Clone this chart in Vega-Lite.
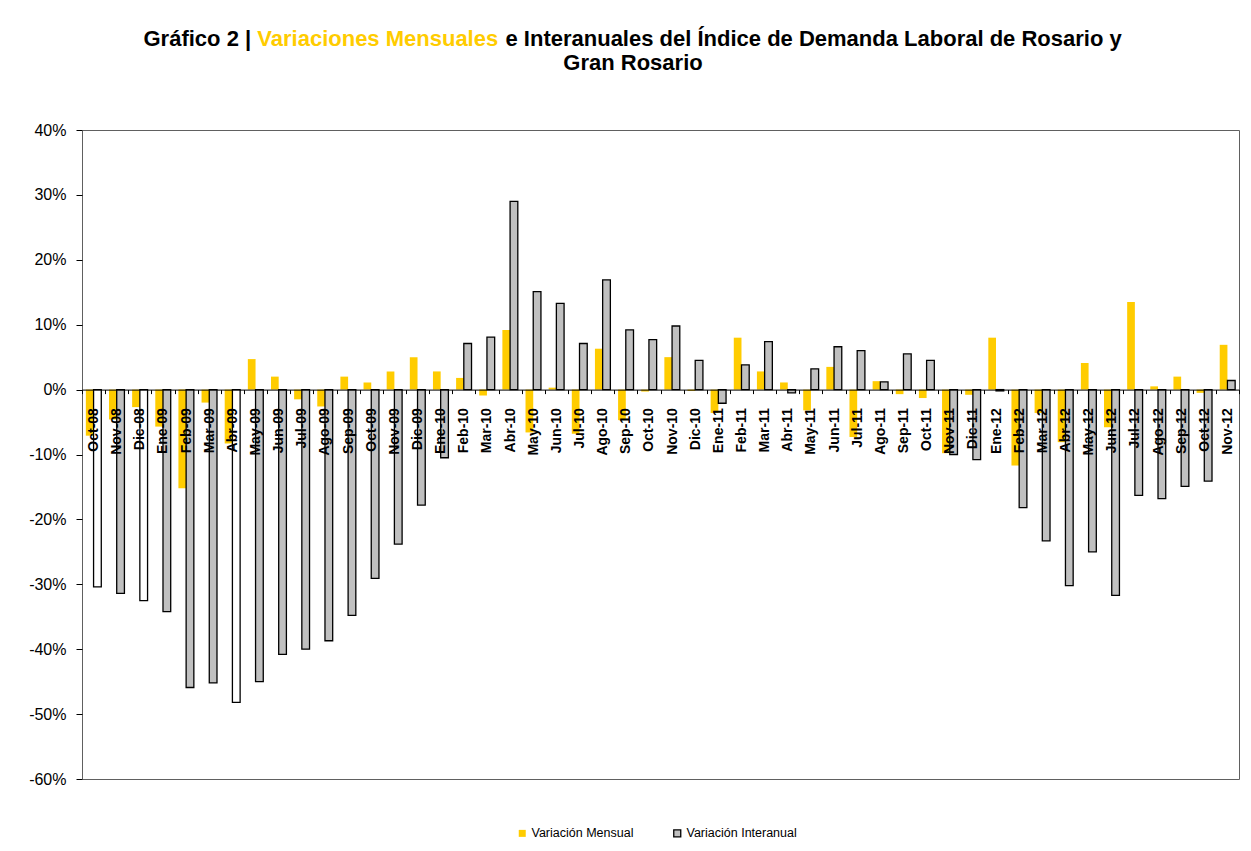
{
  "$schema": "https://vega.github.io/schema/vega-lite/v6.json",
  "width": 1157,
  "height": 649,
  "autosize": {"type": "none"},
  "padding": {"left": 82, "top": 130, "right": 12, "bottom": 72},
  "background": "white",
  "config": {"view": {"stroke": "#606060", "strokeWidth": 1}, "font": "Liberation Sans"},
  "data": {"values": [
    {"mes": "Oct-08", "Variación Mensual": -7.1, "Variación Interanual": -30.4},
    {"mes": "Nov-08", "Variación Mensual": -4.6, "Variación Interanual": -31.4},
    {"mes": "Dic-08", "Variación Mensual": -2.7, "Variación Interanual": -32.5},
    {"mes": "Ene-09", "Variación Mensual": -5.7, "Variación Interanual": -34.2},
    {"mes": "Feb-09", "Variación Mensual": -15.2, "Variación Interanual": -45.9},
    {"mes": "Mar-09", "Variación Mensual": -2.0, "Variación Interanual": -45.2},
    {"mes": "Abr-09", "Variación Mensual": -8.3, "Variación Interanual": -48.2},
    {"mes": "May-09", "Variación Mensual": 4.7, "Variación Interanual": -45.0},
    {"mes": "Jun-09", "Variación Mensual": 2.0, "Variación Interanual": -40.8},
    {"mes": "Jul-09", "Variación Mensual": -1.5, "Variación Interanual": -40.0},
    {"mes": "Ago-09", "Variación Mensual": -2.6, "Variación Interanual": -38.7},
    {"mes": "Sep-09", "Variación Mensual": 2.0, "Variación Interanual": -34.8},
    {"mes": "Oct-09", "Variación Mensual": 1.1, "Variación Interanual": -29.1},
    {"mes": "Nov-09", "Variación Mensual": 2.8, "Variación Interanual": -23.8},
    {"mes": "Dic-09", "Variación Mensual": 5.0, "Variación Interanual": -17.8},
    {"mes": "Ene-10", "Variación Mensual": 2.8, "Variación Interanual": -10.5},
    {"mes": "Feb-10", "Variación Mensual": 1.8, "Variación Interanual": 7.1},
    {"mes": "Mar-10", "Variación Mensual": -0.9, "Variación Interanual": 8.1},
    {"mes": "Abr-10", "Variación Mensual": 9.2, "Variación Interanual": 29.0},
    {"mes": "May-10", "Variación Mensual": -6.6, "Variación Interanual": 15.1},
    {"mes": "Jun-10", "Variación Mensual": 0.3, "Variación Interanual": 13.3},
    {"mes": "Jul-10", "Variación Mensual": -6.8, "Variación Interanual": 7.1},
    {"mes": "Ago-10", "Variación Mensual": 6.3, "Variación Interanual": 16.9},
    {"mes": "Sep-10", "Variación Mensual": -4.7, "Variación Interanual": 9.2},
    {"mes": "Oct-10", "Variación Mensual": -0.3, "Variación Interanual": 7.7},
    {"mes": "Nov-10", "Variación Mensual": 5.0, "Variación Interanual": 9.8},
    {"mes": "Dic-10", "Variación Mensual": -0.2, "Variación Interanual": 4.5},
    {"mes": "Ene-11", "Variación Mensual": -3.6, "Variación Interanual": -2.1},
    {"mes": "Feb-11", "Variación Mensual": 8.0, "Variación Interanual": 3.8},
    {"mes": "Mar-11", "Variación Mensual": 2.8, "Variación Interanual": 7.4},
    {"mes": "Abr-11", "Variación Mensual": 1.1, "Variación Interanual": -0.5},
    {"mes": "May-11", "Variación Mensual": -3.2, "Variación Interanual": 3.2},
    {"mes": "Jun-11", "Variación Mensual": 3.5, "Variación Interanual": 6.6},
    {"mes": "Jul-11", "Variación Mensual": -7.3, "Variación Interanual": 6.0},
    {"mes": "Ago-11", "Variación Mensual": 1.3, "Variación Interanual": 1.2},
    {"mes": "Sep-11", "Variación Mensual": -0.7, "Variación Interanual": 5.5},
    {"mes": "Oct-11", "Variación Mensual": -1.3, "Variación Interanual": 4.5},
    {"mes": "Nov-11", "Variación Mensual": -9.8, "Variación Interanual": -10.0},
    {"mes": "Dic-11", "Variación Mensual": -0.8, "Variación Interanual": -10.8},
    {"mes": "Ene-12", "Variación Mensual": 8.0, "Variación Interanual": -0.2},
    {"mes": "Feb-12", "Variación Mensual": -11.7, "Variación Interanual": -18.2},
    {"mes": "Mar-12", "Variación Mensual": -3.6, "Variación Interanual": -23.3},
    {"mes": "Abr-12", "Variación Mensual": -8.1, "Variación Interanual": -30.2},
    {"mes": "May-12", "Variación Mensual": 4.1, "Variación Interanual": -25.0},
    {"mes": "Jun-12", "Variación Mensual": -5.8, "Variación Interanual": -31.7},
    {"mes": "Jul-12", "Variación Mensual": 13.5, "Variación Interanual": -16.3},
    {"mes": "Ago-12", "Variación Mensual": 0.5, "Variación Interanual": -16.8},
    {"mes": "Sep-12", "Variación Mensual": 2.0, "Variación Interanual": -14.9},
    {"mes": "Oct-12", "Variación Mensual": -0.5, "Variación Interanual": -14.1},
    {"mes": "Nov-12", "Variación Mensual": 6.9, "Variación Interanual": 1.4}
  ]},
  "transform": [{"fold": ["Variación Mensual", "Variación Interanual"], "as": ["serie", "valor"]}],
  "layer": [
    {
      "mark": {"type": "bar", "strokeWidth": 1.3},
      "encoding": {
        "x": {
          "field": "mes", "type": "nominal", "sort": null,
          "scale": {"paddingInner": 0, "paddingOuter": 0},
          "axis": {
            "orient": "bottom", "offset": -389.4,
            "title": "Variaciones Mensuales", "titleX": 174.8, "titleY": -344.6, "titleAngle": 0,
            "titleAlign": "left", "titleBaseline": "alphabetic", "titleColor": "#FFCC00",
            "titleFont": "Liberation Sans", "titleFontSize": 22, "titleFontWeight": "bold",
            "labelAngle": -90, "labelAlign": "right", "labelBaseline": "middle",
            "labelFont": "Liberation Sans", "labelFontSize": 14, "labelFontWeight": "bold",
            "labelColor": "#000000", "labelPadding": 14, "labelOverlap": false,
            "tickBand": "extent", "tickSize": 4, "tickColor": "#000000",
            "domainColor": "#000000", "domainWidth": 1, "zindex": 1, "grid": false
          }
        },
        "xOffset": {
          "field": "serie", "type": "nominal", "sort": ["Variación Mensual", "Variación Interanual"],
          "scale": {"paddingInner": 0, "paddingOuter": 0.5}
        },
        "y": {
          "field": "valor", "type": "quantitative",
          "scale": {"domain": [-60, 40], "nice": false},
          "axis": {
            "orient": "left",
            "values": [-60, -50, -40, -30, -20, -10, 0, 10, 20, 30, 40],
            "labelExpr": "datum.value + '%'",
            "title": "Gráfico 2 |",
            "titleX": 61, "titleY": -85, "titleAngle": 0, "titleAlign": "left",
            "titleBaseline": "alphabetic", "titleFont": "Liberation Sans", "titleFontSize": 22,
            "titleFontWeight": "bold", "titleColor": "#000000",
            "labelFont": "Liberation Sans", "labelFontSize": 16, "labelColor": "#000000",
            "labelPadding": 10, "tickSize": 6, "tickColor": "#000000",
            "domain": false, "grid": false
          }
        },
        "fill": {
          "condition": {"test": "datum.serie === 'Variación Interanual' && indexof(['Oct-08','Dic-08','Abr-09'], datum.mes) >= 0", "value": "#FFFFFF"},
          "field": "serie", "type": "nominal",
          "scale": {"domain": ["Variación Mensual", "Variación Interanual"], "range": ["#FFCC00", "#C0C0C0"]},
          "legend": {
            "title": null, "orient": "none", "legendX": 434, "legendY": 697, "direction": "horizontal",
            "symbolType": "square", "symbolSize": 49, "symbolStrokeWidth": 1.3,
            "labelFont": "Liberation Sans", "labelFontSize": 12.5, "labelColor": "#000000",
            "labelOffset": 3, "columnPadding": 37, "padding": 0
          }
        },
        "stroke": {
          "field": "serie", "type": "nominal",
          "scale": {"domain": ["Variación Mensual", "Variación Interanual"], "range": ["transparent", "#000000"]},
          "legend": {
            "title": null, "orient": "none", "legendX": 434, "legendY": 697, "direction": "horizontal",
            "symbolType": "square", "symbolSize": 49, "symbolStrokeWidth": 1.3,
            "labelFont": "Liberation Sans", "labelFontSize": 12.5, "labelColor": "#000000",
            "labelOffset": 3, "columnPadding": 37, "padding": 0
          }
        }
      }
    },
    {
      "mark": {"type": "point", "opacity": 0, "size": 0},
      "encoding": {
        "x": {
          "field": "mes", "type": "nominal", "sort": null,
          "axis": {
            "orient": "top", "labels": false, "ticks": false, "domain": false, "grid": false,
            "title": "e Interanuales del Índice de Demanda Laboral de Rosario y",
            "titleX": 423, "titleY": -85, "titleAngle": 0, "titleAlign": "left",
            "titleBaseline": "alphabetic", "titleFont": "Liberation Sans", "titleFontSize": 22,
            "titleFontWeight": "bold", "titleColor": "#000000"
          }
        },
        "y": {
          "field": "valor", "type": "quantitative",
          "axis": {
            "orient": "right", "labels": false, "ticks": false, "domain": false, "grid": false,
            "title": "Gran Rosario",
            "titleX": -606.5, "titleY": -61, "titleAngle": 0, "titleAlign": "center",
            "titleBaseline": "alphabetic", "titleFont": "Liberation Sans", "titleFontSize": 22,
            "titleFontWeight": "bold", "titleColor": "#000000"
          }
        }
      }
    }
  ],
  "resolve": {"axis": {"x": "independent", "y": "independent"}}
}
